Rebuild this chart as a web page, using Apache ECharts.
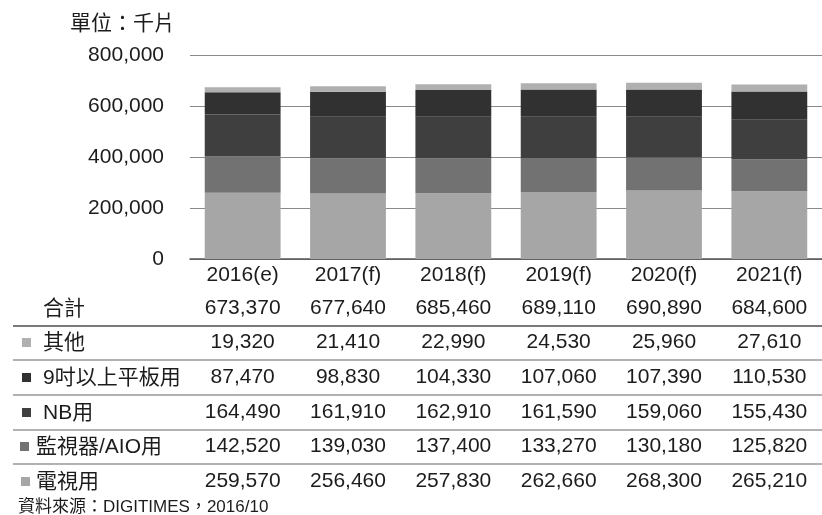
<!DOCTYPE html>
<html>
<head>
<meta charset="utf-8">
<script src="https://cdn.jsdelivr.net/npm/echarts@6/dist/echarts.min.js"></script>
<style>
html,body{margin:0;padding:0;background:#fff;}
#chart{width:822px;height:515px;}
</style>
</head>
<body>
<div id="chart"></div>
<script>
const categories = ['2016(e)','2017(f)','2018(f)','2019(f)','2020(f)','2021(f)'];
const seriesNames = ['電視用','監視器/AIO用','NB用','9吋以上平板用','其他'];
const tvValues      = [259570,256460,257830,262660,268300,265210];
const monitorValues = [142520,139030,137400,133270,130180,125820];
const nbValues      = [164490,161910,162910,161590,159060,155430];
const tabletValues  = [87470,98830,104330,107060,107390,110530];
const otherValues   = [19320,21410,22990,24530,25960,27610];
const totalValues   = [673370,677640,685460,689110,690890,684600];
const yTicks = [0,200000,400000,600000,800000];
const unitLabel = '單位：千片';
const totalLabel = '合計';
const sourceLabel = '資料來源：DIGITIMES，2016/10';

const seriesValues = [tvValues, monitorValues, nbValues, tabletValues, otherValues];
const colors = ['#a6a6a6','#727272','#3f3f3f','#313131','#b0b0b0'];
const FONT = '"Liberation Sans", Arial, "Noto Sans CJK TC", sans-serif';
const TXT = '#1c1c1c';
const fmt = v => Number(v).toLocaleString('en-US');

// table rows (top to bottom): totals, then series in reverse stacking order
const tableRows = [
  {name: totalLabel, values: totalValues, color: null, offset: 33, textX: 43, markX: 0},
  {name: seriesNames[4], values: otherValues, color: colors[4], offset: 67, textX: 43, markX: 22},
  {name: seriesNames[3], values: tabletValues, color: colors[3], offset: 102, textX: 43, markX: 22},
  {name: seriesNames[2], values: nbValues, color: colors[2], offset: 137, textX: 43, markX: 22},
  {name: seriesNames[1], values: monitorValues, color: colors[1], offset: 171, textX: 36, markX: 20},
  {name: seriesNames[0], values: tvValues, color: colors[0], offset: 206, textX: 36, markX: 21}
];

const AXIS_Y = 259;
const LABEL_MARGIN = 6;

const xAxes = [{
  type: 'category',
  data: categories,
  gridIndex: 0,
  position: 'bottom',
  axisLine: {show: true, lineStyle: {color: '#555', width: 1.5}},
  axisTick: {show: false},
  axisLabel: {interval: 0, margin: LABEL_MARGIN, color: TXT, fontSize: 21, fontFamily: FONT}
}];
tableRows.forEach(r => {
  xAxes.push({
    type: 'category',
    data: r.values.map(fmt),
    gridIndex: 0,
    position: 'bottom',
    offset: r.offset,
    axisLine: {show: false},
    axisTick: {show: false},
    splitLine: {show: false},
    axisLabel: {interval: 0, margin: LABEL_MARGIN, color: TXT, fontSize: 21, fontFamily: FONT}
  });
});

const graphics = [
  {type: 'text', left: 70, top: 14, style: {text: unitLabel, fill: TXT, font: '21px ' + FONT}},
  {type: 'text', left: 18, top: 499, style: {text: sourceLabel, fill: TXT, font: '17px ' + FONT}}
];
const sepLines = [326, 360, 395, 430, 464];
sepLines.forEach((y, i) => {
  graphics.push({type: 'line', shape: {x1: 13, y1: y, x2: 822, y2: y},
    style: {stroke: i === 0 ? '#7a7a7a' : '#999', lineWidth: i === 0 ? 2.2 : 1.5}});
});
tableRows.forEach(r => {
  const cy = AXIS_Y + r.offset + LABEL_MARGIN + 11;
  graphics.push({type: 'text', x: r.textX, y: cy,
    style: {text: r.name, fill: TXT, font: '21px ' + FONT, verticalAlign: 'middle', align: 'left'}});
  if (r.color) {
    graphics.push({type: 'rect', shape: {x: r.markX, y: cy - 5, width: 9, height: 9},
      style: {fill: r.color}});
  }
});

const chart = echarts.init(document.getElementById('chart'), null, {renderer: 'canvas'});
chart.setOption({
  animation: false,
  backgroundColor: '#fff',
  grid: {left: 190, right: -7, top: 55, bottom: 515 - AXIS_Y, containLabel: false},
  xAxis: xAxes,
  yAxis: {
    type: 'value',
    min: yTicks[0],
    max: yTicks[yTicks.length - 1],
    interval: yTicks[1] - yTicks[0],
    axisLine: {show: false},
    axisTick: {show: false},
    splitLine: {lineStyle: {color: '#8a8a8a', width: 1.2}},
    axisLabel: {margin: 26, color: TXT, fontSize: 21, fontFamily: FONT, formatter: v => fmt(v)}
  },
  series: seriesNames.map((n, i) => ({
    name: n,
    type: 'bar',
    stack: 'total',
    xAxisIndex: 0,
    barCategoryGap: '28%',
    data: seriesValues[i],
    itemStyle: {color: colors[i]}
  })),
  graphic: graphics
});
</script>
</body>
</html>
